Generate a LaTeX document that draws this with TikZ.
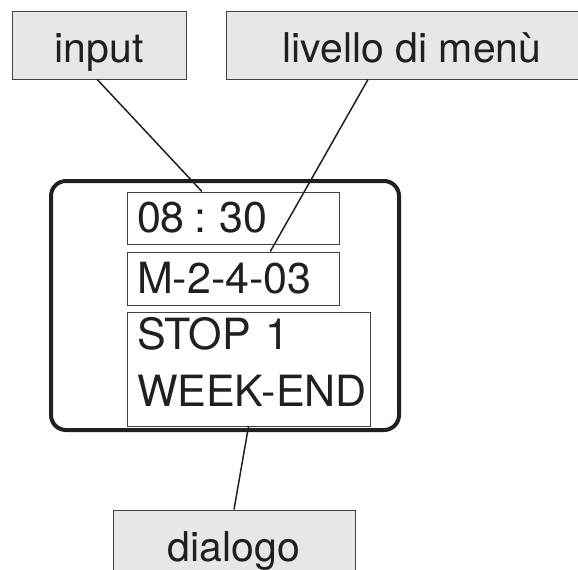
\documentclass[tikz,border=0pt]{standalone}
\usepackage{fontspec}
\setmainfont{TeX Gyre Heros}
\usetikzlibrary{calc}
\hfuzz=10pt
\definecolor{boxgray}{RGB}{230,231,232}
\definecolor{ink}{RGB}{35,31,32}
\tikzset{
  labelbox/.style={draw=ink!85, fill=boxgray, line width=0.5pt, minimum height=34pt, text height=18pt, text depth=1pt, inner sep=0pt, text=ink, font=\fontsize{20.5}{28.5}\selectfont},
  lcdbox/.style={draw=ink!85, line width=0.5pt, inner xsep=5pt, inner ysep=0pt, align=left, text=ink, font=\fontsize{21.5}{28.5}\selectfont},
  pointer/.style={draw=ink, line width=0.75pt}
}
\begin{document}
\begin{tikzpicture}[x=0.5pt, y=-0.5pt]
    \clip (0,0) rectangle (578,569);
    \node[labelbox, minimum width=87pt] (input) at (99,45) {input};
    \node[labelbox, minimum width=186pt] (livello) at (412,45) {livello di menù};
    
    \node[draw=ink, line width=2pt, rounded corners=7.5pt, minimum width=174pt, minimum height=124.5pt] (display) at (225,305.5) {};
    \node[lcdbox, text width=96pt, minimum height=26pt] (ora) at (233,218) {08\hspace{0.22em}:\hspace{0.3em}30};
    \node[lcdbox, text width=96pt, minimum height=26.5pt] (codice) at (233,278.5) {M-2-4-03};
    \node[lcdbox, text width=111.5pt, minimum height=57pt] (testo) at (248.5,369) {STOP 1\\\mbox{WEEK-END}\rule[-7.5pt]{0pt}{0pt}};
    
    \node[labelbox, minimum width=121pt] (dialogo) at (234,544) {dialogo};
    
    \draw[pointer] ($(input.south west)!0.49!(input.south east)$) -- ($(ora.north west)!0.354!(ora.north east)$);
    \draw[pointer] ($(livello.south west)!0.382!(livello.south east)$) -- ($(codice.north west)!0.675!(codice.north east)$);
    \draw[pointer] (testo.south) -- (dialogo.north);
\end{tikzpicture}
\end{document}
